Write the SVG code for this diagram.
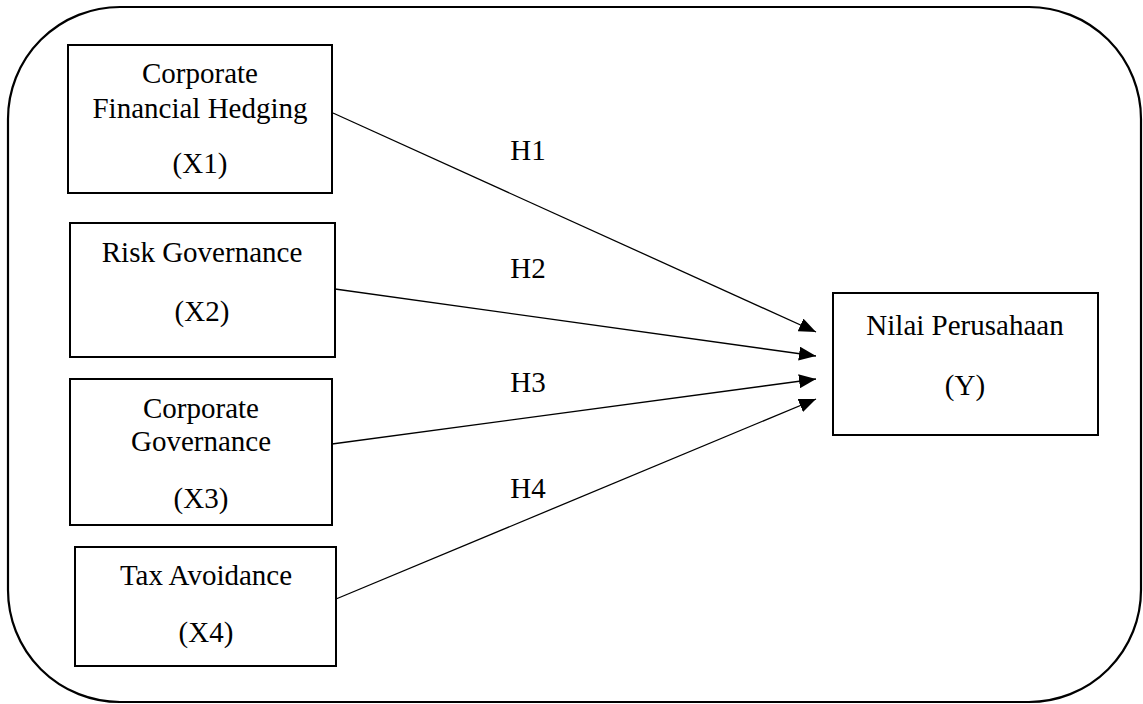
<svg xmlns="http://www.w3.org/2000/svg" width="1143" height="704" viewBox="0 0 1143 704">
<style>
.box{fill:#fff;stroke:#000;stroke-width:2}
.t{font-family:"Liberation Serif","Times New Roman",serif;font-size:29px;fill:#000;text-anchor:middle}
.c{stroke:#000;stroke-width:1.3;fill:none}
</style>
<defs>
<marker id="arr" markerUnits="userSpaceOnUse" markerWidth="18" markerHeight="14" refX="17" refY="7" orient="auto">
<path d="M0,0 L17,7 L0,14 Z" fill="#000"/>
</marker>
</defs>
<rect x="8" y="7" width="1133" height="695" rx="112" ry="112" fill="#fff" stroke="#000" stroke-width="2.2"/>
<g id="connectors">
<line class="c" x1="333" y1="113" x2="816" y2="332" marker-end="url(#arr)"/>
<line class="c" x1="335" y1="289" x2="816" y2="356" marker-end="url(#arr)"/>
<line class="c" x1="332" y1="444" x2="816" y2="379" marker-end="url(#arr)"/>
<line class="c" x1="336" y1="599" x2="816" y2="399" marker-end="url(#arr)"/>
<text class="t" x="528" y="160">H1</text>
<text class="t" x="528" y="278">H2</text>
<text class="t" x="528" y="392">H3</text>
<text class="t" x="528" y="498">H4</text>
</g>
<g id="x1">
<rect class="box" x="68" y="45" width="264" height="148"/>
<text class="t" x="200" y="83">Corporate</text>
<text class="t" x="200" y="118">Financial Hedging</text>
<text class="t" x="200" y="173">(X1)</text>
</g>
<g id="x2">
<rect class="box" x="70" y="223" width="265" height="134"/>
<text class="t" x="202" y="262">Risk Governance</text>
<text class="t" x="202" y="321">(X2)</text>
</g>
<g id="x3">
<rect class="box" x="70" y="379" width="262" height="146"/>
<text class="t" x="201" y="418">Corporate</text>
<text class="t" x="201" y="451">Governance</text>
<text class="t" x="201" y="508">(X3)</text>
</g>
<g id="x4">
<rect class="box" x="75" y="547" width="261" height="119"/>
<text class="t" x="206" y="585">Tax Avoidance</text>
<text class="t" x="206" y="642">(X4)</text>
</g>
<g id="y">
<rect class="box" x="833" y="293" width="265" height="142"/>
<text class="t" x="965" y="335">Nilai Perusahaan</text>
<text class="t" x="965" y="395">(Y)</text>
</g>
</svg>
